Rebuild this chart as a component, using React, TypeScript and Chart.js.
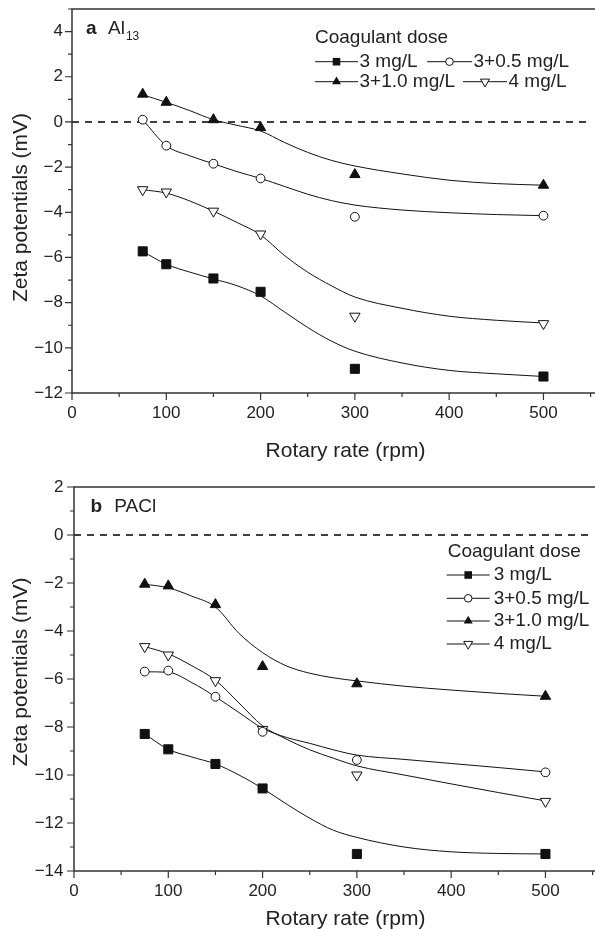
import React, { useEffect, useRef } from "react";
import { Chart, registerables } from "chart.js";
Chart.register(...registerables);

// ---------- data ----------
const rpm = [75, 100, 150, 200, 300, 500];
const fitRpm = [75, 100, 125, 150, 175, 200, 225, 250, 275, 300, 350, 400, 450, 500];
const doseLabels = ["3 mg/L", "3+0.5 mg/L", "3+1.0 mg/L", "4 mg/L"];
const legendTitle = "Coagulant dose";
const xTitle = "Rotary rate (rpm)";
const yTitle = "Zeta potentials (mV)";

// Panel a: Al13 (measured points)
const alDose3 = [-5.73, -6.3, -6.93, -7.52, -10.93, -11.27];
const alDose35 = [0.1, -1.05, -1.85, -2.5, -4.2, -4.15];
const alDose310 = [1.23, 0.87, 0.1, -0.25, -2.33, -2.8];
const alDose4 = [-3.0, -3.1, -3.95, -4.96, -8.6, -8.93];
// Panel a: fitted curves (at fitRpm)
const alFit3 = [-5.73, -6.3, -6.65, -6.95, -7.25, -7.7, -8.4, -9.1, -9.7, -10.15, -10.67, -11.0, -11.15, -11.27];
const alFit35 = [0.1, -1.05, -1.5, -1.85, -2.2, -2.5, -2.85, -3.2, -3.48, -3.68, -3.9, -4.02, -4.1, -4.15];
const alFit310 = [1.2, 0.87, 0.5, 0.1, -0.15, -0.4, -0.9, -1.35, -1.7, -1.95, -2.3, -2.58, -2.73, -2.8];
const alFit4 = [-3.0, -3.15, -3.5, -3.95, -4.45, -5.0, -5.9, -6.65, -7.25, -7.75, -8.25, -8.6, -8.78, -8.9];

// Panel b: PACl (measured points)
const paDose3 = [-8.29, -8.93, -9.54, -10.56, -13.29, -13.29];
const paDose35 = [-5.69, -5.65, -6.74, -8.2, -9.375, -9.89];
const paDose310 = [-2.05, -2.12, -2.9, -5.48, -6.2, -6.72];
const paDose4 = [-4.65, -5.0, -6.07, -8.1, -10.0, -11.1];
// Panel b: fitted curves
const paFit3 = [-8.29, -8.93, -9.25, -9.54, -10.0, -10.56, -11.2, -11.8, -12.3, -12.6, -13.0, -13.2, -13.27, -13.29];
const paFit35 = [-5.7, -5.72, -6.15, -6.74, -7.4, -8.05, -8.43, -8.68, -8.95, -9.17, -9.35, -9.52, -9.69, -9.87];
const paFit310 = [-2.05, -2.2, -2.55, -3.0, -4.1, -4.9, -5.45, -5.76, -5.95, -6.08, -6.3, -6.46, -6.6, -6.72];
const paFit4 = [-4.65, -4.95, -5.45, -6.05, -7.0, -7.95, -8.5, -8.95, -9.3, -9.62, -10.0, -10.37, -10.73, -11.08];

// ---------- styles ----------
const FONT = "'Liberation Sans', Arial, Helvetica, sans-serif";
const TEXT = "#222";
const AXIS = "#333";
const INK = "#111";

const markerStyles = [
  { pointStyle: "rect", radius: 6.4, fill: INK, rotation: 0 },
  { pointStyle: "circle", radius: 4.4, fill: "#fff", rotation: 0 },
  { pointStyle: "triangle", radius: 6, fill: INK, rotation: 0 },
  { pointStyle: "triangle", radius: 6, fill: "#fff", rotation: 180 },
];

const fmt = (v: number) => (v < 0 ? "\u2212" + Math.abs(v) : String(v));

function drawLegendMarker(ctx: CanvasRenderingContext2D, kind: number, x: number, y: number) {
  ctx.save();
  ctx.lineWidth = 1;
  ctx.strokeStyle = INK;
  ctx.beginPath();
  if (kind === 0) {
    const s = 3.8;
    ctx.rect(x - s, y - s, 2 * s, 2 * s);
    ctx.fillStyle = INK;
    ctx.fill();
  } else if (kind === 1) {
    ctx.arc(x, y, 3.8, 0, Math.PI * 2);
    ctx.fillStyle = "#fff";
    ctx.fill();
    ctx.stroke();
  } else if (kind === 2) {
    const r = 5.2;
    ctx.moveTo(x, y - r);
    ctx.lineTo(x + r * 0.866, y + r / 2);
    ctx.lineTo(x - r * 0.866, y + r / 2);
    ctx.closePath();
    ctx.fillStyle = INK;
    ctx.fill();
  } else {
    const r = 5.2;
    ctx.moveTo(x, y + r);
    ctx.lineTo(x + r * 0.866, y - r / 2);
    ctx.lineTo(x - r * 0.866, y - r / 2);
    ctx.closePath();
    ctx.fillStyle = "#fff";
    ctx.fill();
    ctx.stroke();
  }
  ctx.restore();
}

type LegendItem = { kind: number; x: number; y: number; len: number; gap: number };
type Spec = {
  top: number;
  width: number;
  height: number;
  padTop: number;
  yAxisWidth: number;
  xAxisHeight: number;
  yMin: number;
  yMax: number;
  yLabelPad: number;
  points: number[][];
  fits: number[][];
  letter: string;
  name: string;
  sub: string;
  letterPos: [number, number, number];
  legendHead: [number, number];
  legendItems: LegendItem[];
  xTitlePos: [number, number];
  yTitlePos: [number, number];
};

function makeDecor(spec: Spec) {
  return {
    id: "decor",
    afterDraw(chart: any) {
      const { ctx, chartArea: ca, scales } = chart;
      const xs = scales.x;
      const ys = scales.y;
      ctx.save();
      // frame (left, bottom, top)
      ctx.strokeStyle = AXIS;
      ctx.lineWidth = 1.5;
      ctx.beginPath();
      ctx.moveTo(ca.right + 5, ca.top);
      ctx.lineTo(ca.left, ca.top);
      ctx.lineTo(ca.left, ca.bottom);
      ctx.lineTo(ca.right + 5, ca.bottom);
      ctx.stroke();
      // ticks
      ctx.lineWidth = 1.2;
      ctx.beginPath();
      for (let v = spec.yMin; v <= spec.yMax; v += 1) {
        const major = Math.abs(v % 2) === 0;
        const py = ys.getPixelForValue(v);
        ctx.moveTo(ca.left, py);
        ctx.lineTo(ca.left - (major ? 7 : 4), py);
      }
      for (let v = 0; v <= 550; v += 50) {
        const major = v % 100 === 0;
        const px = xs.getPixelForValue(v);
        ctx.moveTo(px, ca.bottom);
        ctx.lineTo(px, ca.bottom + (major ? 7 : 4));
      }
      ctx.stroke();

      // axis titles
      ctx.fillStyle = TEXT;
      ctx.font = `21px ${FONT}`;
      ctx.textAlign = "center";
      ctx.textBaseline = "middle";
      ctx.fillText(xTitle, spec.xTitlePos[0], spec.xTitlePos[1]);
      ctx.save();
      ctx.translate(spec.yTitlePos[0], spec.yTitlePos[1]);
      ctx.rotate(-Math.PI / 2);
      ctx.fillText(yTitle, 0, 0);
      ctx.restore();

      // panel label
      ctx.textAlign = "left";
      ctx.font = `bold 19px ${FONT}`;
      const [lx, ly, nx] = spec.letterPos;
      ctx.fillText(spec.letter, lx, ly);
      ctx.font = `19px ${FONT}`;
      ctx.fillText(spec.name, nx, ly);
      if (spec.sub) {
        const w = ctx.measureText(spec.name).width;
        ctx.font = `12px ${FONT}`;
        ctx.fillText(spec.sub, nx + w + 1, ly + 8);
      }

      // legend
      ctx.font = `19px ${FONT}`;
      ctx.fillText(legendTitle, spec.legendHead[0], spec.legendHead[1]);
      spec.legendItems.forEach((it) => {
        ctx.strokeStyle = INK;
        ctx.lineWidth = 1;
        ctx.beginPath();
        ctx.moveTo(it.x, it.y);
        ctx.lineTo(it.x + it.len, it.y);
        ctx.stroke();
        drawLegendMarker(ctx, it.kind, it.x + it.len / 2, it.y);
        ctx.fillStyle = TEXT;
        ctx.font = `19px ${FONT}`;
        ctx.fillText(doseLabels[it.kind], it.x + it.len + it.gap, it.y);
      });
      ctx.restore();
    },
  };
}

function Panel({ spec }: { spec: Spec }) {
  const ref = useRef<HTMLCanvasElement>(null);
  useEffect(() => {
    const datasets: any[] = [];
    spec.points.forEach((vals, i) => {
      const m = markerStyles[i];
      datasets.push({
        label: doseLabels[i],
        data: rpm.map((x, k) => ({ x, y: vals[k] })),
        showLine: false,
        pointStyle: m.pointStyle,
        pointRadius: m.radius,
        pointRotation: m.rotation,
        pointBackgroundColor: m.fill,
        pointBorderColor: INK,
        pointBorderWidth: 1,
        order: 0,
      });
    });
    spec.fits.forEach((vals, i) => {
      datasets.push({
        label: doseLabels[i] + " fit",
        data: fitRpm.map((x, k) => ({ x, y: vals[k] })),
        showLine: true,
        borderColor: INK,
        borderWidth: 1,
        pointRadius: 0,
        cubicInterpolationMode: "monotone",
        order: 1,
      });
    });
    datasets.push({
      label: "zero",
      data: [
        { x: 0, y: 0 },
        { x: 550, y: 0 },
      ],
      showLine: true,
      borderColor: "#000",
      borderWidth: 1.6,
      borderDash: [7, 6],
      pointRadius: 0,
      order: 2,
    });

    const chart = new Chart(ref.current as HTMLCanvasElement, {
      type: "scatter",
      data: { datasets },
      options: {
        responsive: false,
        animation: false,
        devicePixelRatio: 1,
        layout: { padding: { top: spec.padTop, left: 0, right: 0, bottom: 0 } },
        plugins: { legend: { display: false }, tooltip: { enabled: false } },
        scales: {
          x: {
            type: "linear",
            min: 0,
            max: 550,
            ticks: {
              stepSize: 100,
              includeBounds: false,
              autoSkip: false,
              maxRotation: 0,
              padding: 10,
              color: TEXT,
              font: { family: FONT, size: 17 },
              callback: (v: any) => fmt(Number(v)),
            },
            grid: { display: false, drawTicks: false, tickLength: 0 },
            border: { display: false },
            afterFit: (s: any) => {
              s.height = spec.xAxisHeight;
              s.paddingLeft = 0;
              s.paddingRight = 0;
              s.paddingTop = 0;
              s.paddingBottom = 0;
            },
          },
          y: {
            type: "linear",
            min: spec.yMin,
            max: spec.yMax,
            ticks: {
              stepSize: 2,
              includeBounds: false,
              autoSkip: false,
              padding: spec.yLabelPad,
              color: TEXT,
              font: { family: FONT, size: 17 },
              callback: (v: any) => fmt(Number(v)),
            },
            grid: { display: false, drawTicks: false, tickLength: 0 },
            border: { display: false },
            afterFit: (s: any) => {
              s.width = spec.yAxisWidth;
              s.paddingLeft = 0;
              s.paddingRight = 0;
              s.paddingTop = 0;
              s.paddingBottom = 0;
            },
          },
        },
      } as any,
      plugins: [makeDecor(spec)],
    });
    return () => chart.destroy();
  }, []);
  return (
    <canvas
      ref={ref}
      width={spec.width}
      height={spec.height}
      style={{ position: "absolute", left: 0, top: spec.top, display: "block" }}
    />
  );
}

const specA: Spec = {
  top: 0,
  width: 598,
  height: 465,
  padTop: 9,
  yAxisWidth: 72,
  xAxisHeight: 72,
  yMin: -12,
  yMax: 5,
  yLabelPad: 9,
  points: [alDose3, alDose35, alDose310, alDose4],
  fits: [alFit3, alFit35, alFit310, alFit4],
  letter: "a",
  name: "Al",
  sub: "13",
  letterPos: [86, 29, 108],
  legendHead: [315, 38],
  legendItems: [
    { kind: 0, x: 315, y: 61.7, len: 43, gap: 1.5 },
    { kind: 1, x: 427, y: 61.7, len: 45, gap: 1.5 },
    { kind: 2, x: 315, y: 81.7, len: 43, gap: 1.5 },
    { kind: 3, x: 463, y: 81.7, len: 44, gap: 1.5 },
  ],
  xTitlePos: [345.5, 451],
  yTitlePos: [21, 207.5],
};

const specB: Spec = {
  top: 465,
  width: 600,
  height: 470,
  padTop: 22,
  yAxisWidth: 74,
  xAxisHeight: 64,
  yMin: -14,
  yMax: 2,
  yLabelPad: 10.5,
  points: [paDose3, paDose35, paDose310, paDose4],
  fits: [paFit3, paFit35, paFit310, paFit4],
  letter: "b",
  name: "PACl",
  sub: "",
  letterPos: [90.5, 41.7, 114.3],
  legendHead: [447.7, 86.7],
  legendItems: [
    { kind: 0, x: 446.7, y: 110, len: 43, gap: 4 },
    { kind: 1, x: 446.7, y: 133.3, len: 43, gap: 4 },
    { kind: 2, x: 446.7, y: 156, len: 43, gap: 4 },
    { kind: 3, x: 446.7, y: 179, len: 43, gap: 4 },
  ],
  xTitlePos: [345.5, 454],
  yTitlePos: [21, 207],
};

export default function App() {
  return (
    <div
      style={{
        position: "absolute",
        left: 0,
        top: 0,
        width: 595,
        height: 929,
        overflow: "hidden",
        background: "#fff",
      }}
    >
      <Panel spec={specA} />
      <Panel spec={specB} />
    </div>
  );
}
